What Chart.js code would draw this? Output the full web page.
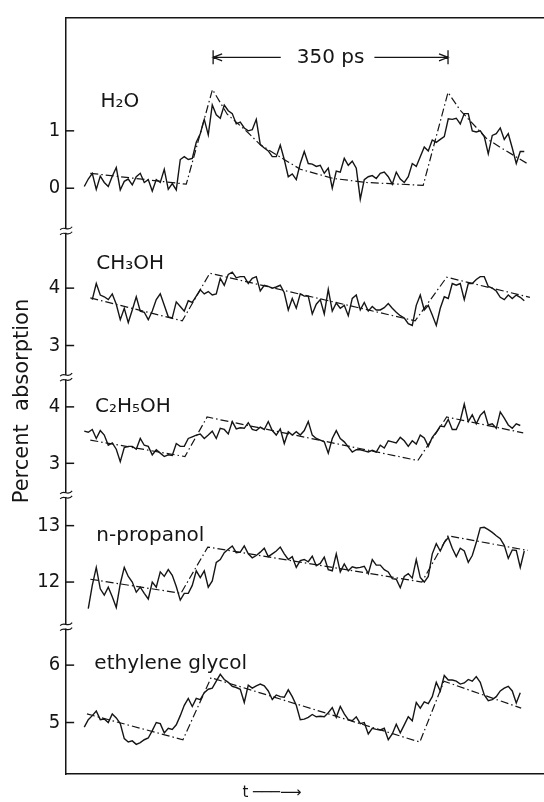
<!DOCTYPE html>
<html lang="en">
<head>
<meta charset="UTF-8">
<title>Percent absorption</title>
<script src="https://cdn.jsdelivr.net/npm/chart.js@4.4.0/dist/chart.umd.min.js"></script>
<style>
  html, body { margin: 0; padding: 0; background: #ffffff; }
  canvas { display: block; }
</style>
</head>
<body>
<canvas id="chart" width="544" height="802"></canvas>
<script>
// traces are sampled every dt ps, starting at t0 ps
var t0 = 27, dt = 5.96

var h2o = [0.03, 0.16, 0.26, -0.02, 0.21, 0.10, 0.03, 0.21, 0.36, -0.03,
    0.12, 0.16, 0.06, 0.20, 0.26, 0.10, 0.15, -0.05, 0.15, 0.10,
    0.33, -0.02, 0.08, -0.03, 0.50, 0.55, 0.50, 0.52, 0.80, 0.95,
    1.20, 0.93, 1.45, 1.28, 1.22, 1.45, 1.35, 1.30, 1.12, 1.15,
    1.05, 1.00, 1.02, 1.20, 0.76, 0.70, 0.65, 0.55, 0.55, 0.75,
    0.50, 0.20, 0.25, 0.15, 0.43, 0.64, 0.43, 0.42, 0.38, 0.40,
    0.26, 0.35, 0.00, 0.30, 0.28, 0.52, 0.40, 0.47, 0.35, -0.19,
    0.15, 0.20, 0.22, 0.17, 0.26, 0.28, 0.20, 0.07, 0.28, 0.16,
    0.10, 0.20, 0.43, 0.38, 0.55, 0.72, 0.65, 0.84, 0.80, 0.85,
    0.90, 1.21, 1.20, 1.22, 1.12, 1.30, 1.30, 1.00, 0.98, 1.00,
    0.90, 0.60, 0.92, 0.95, 1.05, 0.85, 0.95, 0.70, 0.43, 0.64,
    0.64]
var meoh = [null, null, 3.80, 4.08, 3.88, 3.85, 3.80, 3.90, 3.72, 3.45,
    3.65, 3.40, 3.62, 3.85, 3.60, 3.58, 3.45, 3.60, 3.80, 3.90,
    3.70, 3.50, 3.48, 3.76, 3.68, 3.60, 3.78, 3.75, 3.86, 3.97,
    3.90, 3.94, 3.88, 3.90, 4.17, 4.05, 4.24, 4.28, 4.18, 4.20,
    4.20, 4.08, 4.17, 4.20, 3.95, 4.05, 4.03, 4.00, 4.02, 4.05,
    3.92, 3.62, 3.82, 3.65, 3.90, 3.86, 3.86, 3.55, 3.72, 3.80,
    3.55, 3.98, 3.60, 3.74, 3.65, 3.70, 3.52, 3.82, 3.88, 3.62,
    3.75, 3.60, 3.68, 3.62, 3.62, 3.66, 3.73, 3.65, 3.58, 3.52,
    3.48, 3.38, 3.35, 3.70, 3.88, 3.62, 3.70, 3.53, 3.35, 3.65,
    3.85, 3.82, 4.08, 4.05, 4.08, 3.80, 4.08, 4.08, 4.15, 4.20,
    4.20, 4.03, 4.00, 3.95, 3.84, 3.80, 3.88, 3.82, 3.88, 3.84,
    3.78]
var etoh = [3.57, 3.55, 3.60, 3.44, 3.58, 3.50, 3.32, 3.36, 3.25, 3.03,
    3.28, 3.30, 3.30, 3.25, 3.44, 3.32, 3.30, 3.15, 3.24, 3.18,
    3.12, 3.15, 3.14, 3.35, 3.30, 3.30, 3.44, 3.47, 3.50, 3.52,
    3.44, 3.50, 3.57, 3.44, 3.62, 3.60, 3.52, 3.74, 3.61, 3.63,
    3.62, 3.72, 3.60, 3.58, 3.64, 3.60, 3.74, 3.58, 3.50, 3.61,
    3.35, 3.56, 3.50, 3.56, 3.50, 3.58, 3.74, 3.50, 3.44, 3.41,
    3.38, 3.18, 3.44, 3.58, 3.44, 3.38, 3.29, 3.20, 3.24, 3.24,
    3.22, 3.20, 3.23, 3.20, 3.32, 3.27, 3.40, 3.38, 3.36, 3.46,
    3.40, 3.30, 3.40, 3.34, 3.50, 3.45, 3.30, 3.46, 3.55, 3.66,
    3.65, 3.78, 3.60, 3.60, 3.76, 4.05, 3.74, 3.86, 3.70, 3.85,
    3.92, 3.68, 3.70, 3.62, 3.91, 3.80, 3.68, 3.62, 3.70, 3.67,
    null]
var propanol = [null, 11.53, 11.94, 12.26, 11.88, 11.77, 11.91, 11.74, 11.55, 11.97,
    12.26, 12.10, 12.00, 11.82, 11.91, 11.80, 11.70, 12.00, 11.91, 12.18,
    12.10, 12.22, 12.12, 11.92, 11.68, 11.80, 11.80, 11.94, 12.20, 12.08,
    12.20, 11.91, 12.02, 12.35, 12.40, 12.52, 12.58, 12.64, 12.52, 12.53,
    12.64, 12.50, 12.43, 12.47, 12.53, 12.60, 12.45, 12.50, 12.55, 12.62,
    12.50, 12.40, 12.45, 12.26, 12.38, 12.40, 12.36, 12.46, 12.29, 12.33,
    12.44, 12.22, 12.20, 12.50, 12.18, 12.32, 12.20, 12.27, 12.25, 12.26,
    12.28, 12.15, 12.40, 12.30, 12.30, 12.22, 12.18, 12.06, 12.05, 11.90,
    12.10, 12.15, 12.07, 12.40, 12.08, 12.00, 12.10, 12.50, 12.68, 12.55,
    12.70, 12.79, 12.60, 12.45, 12.60, 12.55, 12.35, 12.47, 12.70, 12.96,
    12.97, 12.93, 12.88, 12.82, 12.77, 12.65, 12.42, 12.57, 12.56, 12.26,
    12.55]
var glycol = [4.92, 5.05, 5.12, 5.20, 5.05, 5.06, 5.00, 5.15, 5.08, 4.98,
    4.72, 4.66, 4.68, 4.62, 4.65, 4.70, 4.73, 4.86, 5.00, 4.98,
    4.82, 4.90, 4.88, 4.96, 5.12, 5.30, 5.42, 5.28, 5.42, 5.40,
    5.52, 5.58, 5.60, 5.72, 5.84, 5.75, 5.70, 5.63, 5.61, 5.58,
    5.35, 5.65, 5.60, 5.64, 5.67, 5.64, 5.55, 5.40, 5.48, 5.45,
    5.44, 5.57, 5.45, 5.30, 5.05, 5.06, 5.09, 5.14, 5.10, 5.11,
    5.10, 5.17, 5.26, 5.09, 5.28, 5.15, 5.05, 5.03, 5.10, 4.98,
    5.00, 4.80, 4.90, 4.88, 4.87, 4.90, 4.70, 4.80, 4.97, 4.82,
    4.96, 5.10, 5.03, 5.35, 5.25, 5.36, 5.33, 5.45, 5.70, 5.55,
    5.82, 5.74, 5.74, 5.72, 5.67, 5.69, 5.75, 5.72, 5.80, 5.70,
    5.48, 5.38, 5.40, 5.45, 5.55, 5.60, 5.63, 5.55, 5.34, 5.52,
    null]

// dash-dot model curves: breakpoints (ps) and values
var h2oFitT = [36, 179, 218, 240, 270, 289, 329, 349, 398, 448, 532, 569, 587, 627, 646, 687]
var h2oFitA = [0.26, 0.07, 1.72, 1.29, 0.98, 0.76, 0.47, 0.33, 0.17, 0.10, 0.05, 1.67, 1.36, 0.86, 0.72, 0.43]
var meohFitT = [36, 173, 214, 520, 567, 691]
var meohFitA = [3.83, 3.43, 4.26, 3.43, 4.19, 3.84]
var etohFitT = [36, 177, 210, 524, 567, 681]
var etohFitA = [3.41, 3.12, 3.82, 3.05, 3.82, 3.54]
var propanolFitT = [36, 171, 211, 530, 569, 688]
var propanolFitA = [12.05, 11.80, 12.62, 12.00, 12.82, 12.56]
var glycolFitT = [31, 174, 216, 527, 563, 678]
var glycolFitA = [5.15, 4.70, 5.78, 4.66, 5.72, 5.25]

var names = ['H₂O', 'CH₃OH', 'C₂H₅OH', 'n-propanol', 'ethylene glycol']
var panelTicks = [[0, 1], [3, 4], [3, 4], [12, 13], [5, 6]]
var yMin = [-0.741, 2.448, 2.439, 11.211, 4.103]
var yMax = [2.966, 5.0, 4.526, 13.544, 6.672]
var panelHeight = [215, 148, 119, 133, 149]
var labelT = [51, 45, 43, 45, 42]
var labelA = [1.5, 4.43, 4.0, 12.82, 6.02]
var spanStart = 219, spanPs = 350, spanA = 2.28

var ink = '#151515'
var textFont = '"DejaVu Sans", sans-serif'
var tickFont = '"Liberation Sans Narrow", "DejaVu Sans Condensed", sans-serif'

var panels = ['yH2O', 'yMeOH', 'yEtOH', 'yPrOH', 'yGly']
var traces = [h2o, meoh, etoh, propanol, glycol]
var fitT = [h2oFitT, meohFitT, etohFitT, propanolFitT, glycolFitT]
var fitA = [h2oFitA, meohFitA, etohFitA, propanolFitA, glycolFitA]

var datasets = []
traces.forEach((tr, k) => {
    datasets.push({
        label: names[k],
        data: tr.map((v, i) => ({ x: t0 + i * dt, y: v })),
        yAxisID: panels[k],
        borderColor: ink,
        borderWidth: 1.4,
        pointRadius: 0,
        tension: 0
    })
    datasets.push({
        label: names[k] + ' fit',
        data: fitT[k].map((t, i) => ({ x: t, y: fitA[k][i] })),
        yAxisID: panels[k],
        borderColor: ink,
        borderWidth: 1.2,
        borderDash: [8, 3, 1.5, 3],
        pointRadius: 0,
        tension: 0
    })
})

var scales = {
    x: {
        type: 'linear', min: 0, max: 712,
        grid: { display: false, drawTicks: false },
        ticks: { display: false },
        border: { color: ink, width: 1.5 },
        afterFit: (s) => { s.height = 10 }
    },
    xTop: {
        type: 'linear', position: 'top', min: 0, max: 1,
        grid: { display: false, drawTicks: false },
        ticks: { display: false },
        border: { color: ink, width: 1.5 },
        afterFit: (s) => { s.height = 10 }
    }
}
panels.forEach((id, k) => {
    scales[id] = {
        type: 'linear', position: 'left',
        stack: 'panels', stackWeight: panelHeight[k], weight: panels.length - k,
        min: yMin[k], max: yMax[k],
        grid: { display: false, drawTicks: false },
        border: { color: ink, width: 1.5 },
        ticks: { color: ink, font: { family: tickFont, size: 20 }, padding: 6 },
        afterBuildTicks: (s) => { s.ticks = panelTicks[k].map(v => ({ value: v })) },
        afterFit: (s) => { s.width = 30 }
    }
})

// tick marks pointing inward, axis breaks, panel names, 350 ps marker
var decor = {
    id: 'decor',
    afterDraw(chart) {
        var ctx = chart.ctx
        var x = chart.scales.x
        var left = chart.chartArea.left
        ctx.save();
        ctx.strokeStyle = ink;
        ctx.lineWidth = 1.5;
        panels.forEach((id, k) => {
            var s = chart.scales[id];
            panelTicks[k].forEach(v => {
                var y = s.getPixelForValue(v);
                ctx.beginPath();
                ctx.moveTo(left - 1, y);
                ctx.lineTo(left + 8, y);
                ctx.stroke();
            });
        });
        panels.slice(0, -1).forEach(id => {
            var y = chart.scales[id].bottom;
            ctx.fillStyle = '#ffffff';
            ctx.fillRect(left - 3, y - 2, 6, 4);
            ctx.lineWidth = 1.2;
            for (var d of [-2.5, 2.5]) {
                ctx.beginPath();
                ctx.moveTo(left - 6, y + d + 1.5);
                ctx.bezierCurveTo(left - 2, y + d - 3, left + 2, y + d + 4, left + 6, y + d - 1.5);
                ctx.stroke();
            }
        });

        ctx.fillStyle = ink;
        ctx.font = '20px ' + textFont;
        ctx.textBaseline = 'middle';
        ctx.textAlign = 'left';
        names.forEach((n, k) => {
            ctx.fillText(n, x.getPixelForValue(labelT[k]), chart.scales[panels[k]].getPixelForValue(labelA[k]));
        });

        var xa = x.getPixelForValue(spanStart);
        var xb = x.getPixelForValue(spanStart + spanPs);
        var ya = chart.scales.yH2O.getPixelForValue(spanA);
        var text = spanPs + ' ps';
        var xm = (xa + xb) / 2;
        var w = ctx.measureText(text).width;
        ctx.textAlign = 'center';
        ctx.fillText(text, xm, ya);
        ctx.lineWidth = 1.3;
        ctx.beginPath();
        ctx.moveTo(xa, ya - 7); ctx.lineTo(xa, ya + 7);
        ctx.moveTo(xb, ya - 7); ctx.lineTo(xb, ya + 7);
        ctx.moveTo(xa, ya); ctx.lineTo(xm - w / 2 - 16, ya);
        ctx.moveTo(xm + w / 2 + 10, ya); ctx.lineTo(xb, ya);
        ctx.moveTo(xa + 9, ya - 3.5); ctx.lineTo(xa, ya); ctx.lineTo(xa + 9, ya + 3.5);
        ctx.moveTo(xb - 9, ya - 3.5); ctx.lineTo(xb, ya); ctx.lineTo(xb - 9, ya + 3.5);
        ctx.stroke();
        ctx.restore();
    }
}

var chart = new Chart(document.getElementById('chart').getContext('2d'), {
    type: 'line',
    data: { datasets: datasets },
    options: {
        responsive: false,
        animation: false,
        layout: { padding: 0 },
        scales: scales,
        plugins: {
            legend: { display: false },
            tooltip: { enabled: false },
            title: {
                display: true, position: 'left', text: 'Percent  absorption',
                color: ink, font: { family: textFont, size: 21, weight: 'normal', lineHeight: 1.15 },
                padding: { top: 10, bottom: 2 }
            },
            subtitle: {
                display: true, position: 'bottom', text: 't ───⟶',
                color: ink, font: { family: textFont, size: 15, weight: 'normal', lineHeight: 1.2 },
                padding: 0
            }
        }
    },
    plugins: [decor]
})
</script>
</body>
</html>
